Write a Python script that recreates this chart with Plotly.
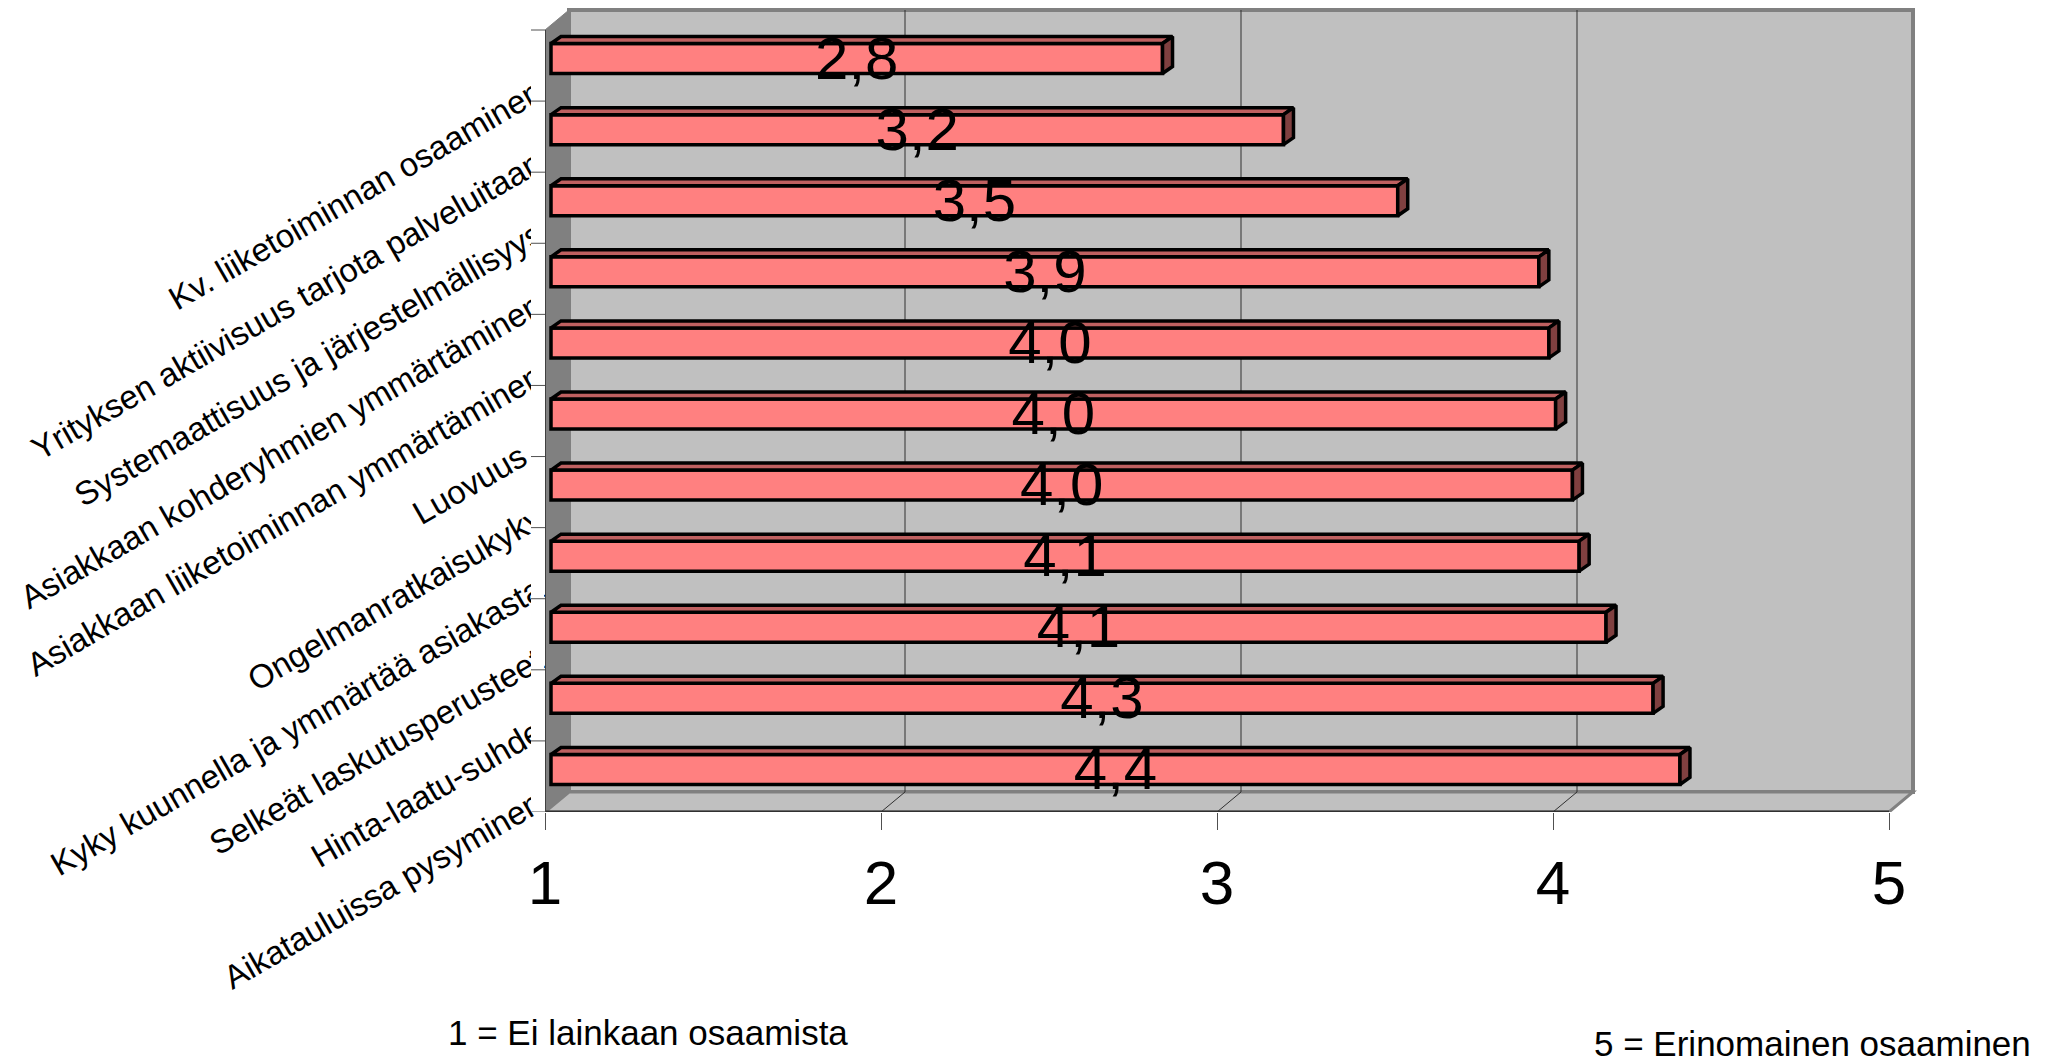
import plotly.graph_objects as go

# Survey results, top bar first
categories = [
    "Kv. liiketoiminnan osaaminen",
    "Yrityksen aktiivisuus tarjota palveluitaan",
    "Systemaattisuus ja järjestelmällisyys",
    "Asiakkaan kohderyhmien ymmärtäminen",
    "Asiakkaan liiketoiminnan ymmärtäminen",
    "Luovuus  ",
    "Ongelmanratkaisukyky",
    "Kyky kuunnella ja ymmärtää asiakasta",
    "Selkeät laskutusperusteet",
    "Hinta-laatu-suhde",
    "Aikatauluissa pysyminen",
]
values = [2.82, 3.18, 3.52, 3.94, 3.97, 3.99, 4.04, 4.06, 4.14, 4.28, 4.36]
x_ticks = [1, 2, 3, 4, 5]
note_low = "1 = Ei lainkaan osaamista"
note_high = "5 = Erinomainen osaaminen"

FONT = "Liberation Sans"
W, H = 2056, 1058
X0_PX, X5_PX, BACK_RIGHT_PX = 545, 1889, 1913
FRONT_BOTTOM_PX, FRONT_TOP_PX, BACK_TOP_PX = 812, 30, 10
STRIP_LEFT_PX = 531
PAD_PX = 4   # spare room so the outer wall border is not clipped

n = len(categories)
x_unit = (X5_PX - X0_PX) / 4
y_unit = (FRONT_BOTTOM_PX - FRONT_TOP_PX) / n
wall_dx = (BACK_RIGHT_PX - X5_PX) / x_unit   # depth of the box
wall_dy = (FRONT_TOP_PX - BACK_TOP_PX) / y_unit
bar_dx = 6 / x_unit                          # bars sit slightly inside the box
bar_dy = 7 / y_unit
bar_depth_x = 10 / x_unit
bar_depth_y = 7 / y_unit
bar_width = 30 / y_unit
label_dy = 12 / y_unit                       # slanted labels sit a little above their tick
value_dy = 5 / y_unit                        # value text sits a little below the bar's centre

y_low, y_high = -0.5, n - 0.5
x_low, x_high = x_ticks[0], x_ticks[-1]
positions = [n - 1 - i for i in range(n)]
boundaries = [p - 0.5 for p in positions]   # a label ends at the lower edge of its row


def path(points):
    return "M " + " L ".join(f"{x},{y}" for x, y in points) + " Z"


def poly(points, fill, line="#808080", width=3, layer="below"):
    return dict(type="path", path=path(points), xref="x", yref="y", fillcolor=fill,
                line=dict(color=line, width=width), layer=layer)


def seg(x0, y0, x1, y1, color, width=1, layer="below"):
    return dict(type="line", x0=x0, y0=y0, x1=x1, y1=y1, xref="x", yref="y",
                line=dict(color=color, width=width), layer=layer)


shapes = [
    # back wall, left wall, floor
    poly([(x_low + wall_dx, y_low + wall_dy), (x_high + wall_dx, y_low + wall_dy),
          (x_high + wall_dx, y_high + wall_dy), (x_low + wall_dx, y_high + wall_dy)], "#C0C0C0", width=4),
    poly([(x_low, y_low), (x_low + wall_dx, y_low + wall_dy),
          (x_low + wall_dx, y_high + wall_dy), (x_low, y_high)], "#808080", width=1),
    poly([(x_low, y_low), (x_high, y_low), (x_high + wall_dx, y_low + wall_dy),
          (x_low + wall_dx, y_low + wall_dy)], "#C0C0C0"),
]
for t in x_ticks[1:-1]:
    shapes.append(seg(t + wall_dx, y_low + wall_dy, t + wall_dx, y_high + wall_dy, "#303030", 1))
    shapes.append(seg(t, y_low, t + wall_dx, y_low + wall_dy, "#303030", 1))
# front edges of the box
shapes.append(seg(x_low, y_low, x_high, y_low, "#303030", 3))
shapes.append(seg(x_low, y_low, x_low, y_high, "#404040", 2))

# white strip trims the slanted labels just short of the axis
shapes.append(dict(type="rect", xref="paper", yref="y",
                   x0=STRIP_LEFT_PX / W, x1=(X0_PX - 1) / W,
                   y0=y_low - 0.36, y1=y_high + wall_dy,
                   fillcolor="white", line=dict(width=0), layer="above"))
for b in boundaries + [y_high]:
    shapes.append(dict(type="line", xref="paper", yref="y",
                       x0=STRIP_LEFT_PX / W, x1=X0_PX / W, y0=b, y1=b,
                       line=dict(color="#505050", width=1), layer="above"))

# top and side faces of each bar, from its value
top_x, top_y, side_x, side_y = [], [], [], []
half = bar_width / 2
for v, p in zip(values, positions):
    xs = x_low + bar_dx
    xe = v + bar_dx
    yc = p + bar_dy
    top_x += [xs, xe, xe + bar_depth_x, xs + bar_depth_x, xs, None]
    top_y += [yc + half, yc + half, yc + half + bar_depth_y, yc + half + bar_depth_y, yc + half, None]
    side_x += [xe, xe + bar_depth_x, xe + bar_depth_x, xe, xe, None]
    side_y += [yc + half, yc + half + bar_depth_y, yc - half + bar_depth_y, yc - half, yc + half, None]

fig = go.Figure()
fig.add_trace(go.Bar(
    orientation="h",
    y=[p + bar_dy for p in positions],
    x=[v - x_low for v in values],
    base=x_low + bar_dx,
    width=bar_width,
    marker=dict(color="#FF8080", line=dict(color="black", width=3.5)),
    hoverinfo="skip", showlegend=False,
))
fig.add_trace(go.Scatter(x=top_x, y=top_y, mode="lines", fill="toself", fillcolor="#BF6060",
                         line=dict(color="black", width=3.5), hoverinfo="skip", showlegend=False))
fig.add_trace(go.Scatter(x=side_x, y=side_y, mode="lines", fill="toself", fillcolor="#804040",
                         line=dict(color="black", width=3.5), hoverinfo="skip", showlegend=False))
fig.add_trace(go.Scatter(
    x=[(x_low + v) / 2 + bar_dx for v in values],
    y=[p + bar_dy - value_dy for p in positions],
    mode="text",
    text=[f"{v:.1f}".replace(".", ",") for v in values],
    textposition="middle center",
    textfont=dict(family=FONT, size=60, color="black"),
    hoverinfo="skip", showlegend=False,
))

fig.update_layout(
    width=W, height=H,
    margin=dict(l=0, r=0, t=0, b=0, autoexpand=False),
    paper_bgcolor="white", plot_bgcolor="rgba(0,0,0,0)",
    barmode="overlay",
    showlegend=False,
    shapes=shapes,
    xaxis=dict(
        domain=[X0_PX / W, (BACK_RIGHT_PX + PAD_PX) / W],
        range=[x_low, x_high + wall_dx + PAD_PX / x_unit],
        automargin=False,
        tickmode="array", tickvals=x_ticks, ticktext=[str(t) for t in x_ticks],
        ticks="outside", ticklen=17, tickwidth=1, tickcolor="#505050",
        tickfont=dict(family=FONT, size=62, color="black"),
        ticklabelstandoff=0,
        showgrid=False, zeroline=False, showline=False,
    ),
    yaxis=dict(
        domain=[1 - FRONT_BOTTOM_PX / H, 1 - (BACK_TOP_PX - PAD_PX) / H],
        range=[y_low, y_high + wall_dy + PAD_PX / y_unit],
        automargin=False,
        tickmode="array", tickvals=[b + label_dy for b in boundaries], ticktext=categories,
        tickangle=-30, ticks="",
        tickfont=dict(family=FONT, size=33, color="black"),
        ticklabelstandoff=7,
        showgrid=False, zeroline=False, showline=False,
    ),
    annotations=[
        dict(text=note_low, xref="paper", yref="paper", showarrow=False,
             x=446 / W, y=1 - 1032 / H, xanchor="left", yanchor="middle",
             font=dict(family=FONT, size=35, color="black")),
        dict(text=note_high, xref="paper", yref="paper", showarrow=False,
             x=1592 / W, y=1 - 1043 / H, xanchor="left", yanchor="middle",
             font=dict(family=FONT, size=35, color="black")),
    ],
)

fig.write_html("out.html")
